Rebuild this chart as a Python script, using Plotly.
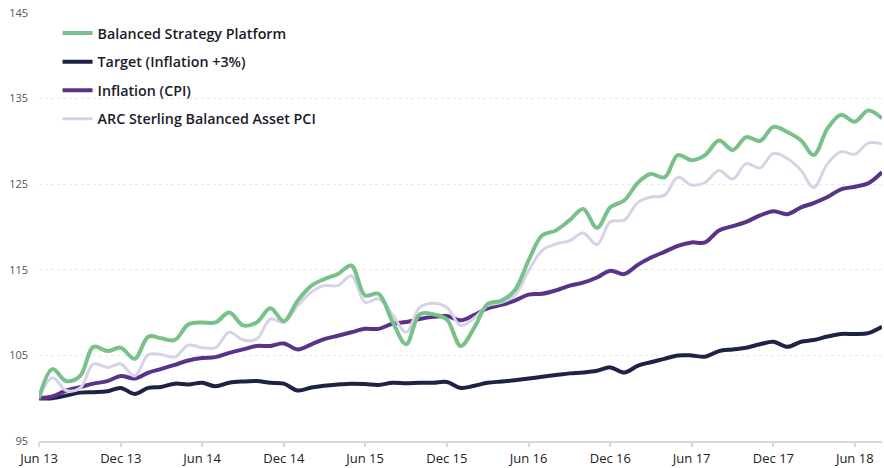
import plotly.graph_objects as go
import pandas as pd

months = pd.date_range("2013-06-01", "2018-08-01", freq="MS").strftime("%Y-%m-%d").tolist()

balanced = [100.0, 103.4, 102.0, 102.6, 106.0, 105.5, 105.9, 104.6, 107.2, 107.0, 106.8, 108.6,
            108.85, 108.85, 110.0, 108.5, 108.85, 110.5, 109.0, 111.4, 113.15, 113.9, 114.5, 115.5,
            112.0, 112.2, 109.0, 106.3, 109.8, 109.8, 109.2, 106.1, 108.3, 111.0, 111.4, 112.6,
            116.1, 119.0, 119.6, 120.8, 122.1, 119.9, 122.3, 123.1, 125.2, 126.2, 125.8, 128.4,
            127.8, 128.4, 130.1, 129.0, 130.5, 130.05, 131.7, 131.1, 130.1, 128.4, 131.5, 133.1,
            132.3, 133.6, 132.7]

target = [100.0, 100.0, 100.3, 100.65, 100.7, 100.8, 101.2, 100.5, 101.2, 101.3, 101.7, 101.6,
          101.8, 101.4, 101.8, 101.95, 102.0, 101.8, 101.7, 100.9, 101.25, 101.45, 101.6, 101.7,
          101.65, 101.55, 101.8, 101.75, 101.8, 101.8, 101.9, 101.2, 101.45, 101.8, 101.95, 102.1,
          102.3, 102.5, 102.7, 102.9, 103.0, 103.2, 103.6, 103.0, 103.8, 104.2, 104.6, 105.0,
          105.0, 104.85, 105.5, 105.7, 105.9, 106.3, 106.6, 106.0, 106.6, 106.8, 107.2, 107.5,
          107.5, 107.6, 108.35]

inflation = [100.0, 100.2, 100.9, 101.3, 101.7, 102.0, 102.6, 102.3, 103.0, 103.4, 103.9, 104.4,
             104.7, 104.8, 105.3, 105.7, 106.1, 106.1, 106.4, 105.7, 106.3, 106.9, 107.3, 107.7,
             108.1, 108.1, 108.7, 108.9, 109.25, 109.5, 109.6, 109.1, 109.75, 110.5, 110.9, 111.4,
             112.1, 112.2, 112.6, 113.15, 113.5, 114.1, 114.9, 114.5, 115.6, 116.4, 117.1, 117.8,
             118.2, 118.2, 119.6, 120.1, 120.6, 121.35, 121.85, 121.5, 122.3, 122.8, 123.5, 124.4,
             124.7, 125.1, 126.4]

arc = [100.0, 102.4, 100.9, 101.2, 104.0, 103.6, 104.0, 102.6, 105.1, 105.1, 104.8, 106.2,
       105.9, 105.9, 107.7, 106.8, 106.9, 109.25, 108.85, 110.8, 112.4, 113.15, 113.15, 114.3,
       111.2, 111.6, 109.8, 107.7, 110.6, 111.1, 110.6, 108.5, 109.4, 110.8, 111.2, 112.0,
       114.9, 117.25, 118.0, 118.4, 119.3, 117.95, 120.6, 120.8, 122.9, 123.5, 123.7, 125.8,
       124.9, 125.2, 126.6, 125.6, 127.4, 126.9, 128.6, 128.0, 126.6, 124.6, 127.4, 128.8,
       128.5, 129.8, 129.7]

series_names = ["Balanced Strategy Platform", "Target (Inflation +3%)", "Inflation (CPI)",
                "ARC Sterling Balanced Asset PCI"]
y_ticks = [95, 105, 115, 125, 135, 145]

FONT = "'Open Sans', Lato, sans-serif"

fig = go.Figure()

# draw order: navy, purple, lilac, green (green on top); legend order via legendrank
specs = [
    (target, series_names[1], "#1E2247", 4, 2),
    (inflation, series_names[2], "#5A3388", 4, 3),
    (arc, series_names[3], "#D6D3E6", 3, 4),
    (balanced, series_names[0], "#78C18A", 4, 1),
]
for vals, name, color, width, rank in specs:
    fig.add_trace(go.Scatter(
        x=months, y=vals, name=name, mode="lines",
        line=dict(color=color, width=width, shape="spline", smoothing=1.0),
        legendrank=rank, legendgroup=name,
    ))

fig.update_layout(
    width=884, height=468,
    margin=dict(l=39, r=2, t=13, b=27, autoexpand=False),
    paper_bgcolor="white", plot_bgcolor="white",
    font=dict(family=FONT, color="#333333"),
    showlegend=True,
    legend=dict(
        x=0.022, y=0.99, xanchor="left", yanchor="top",
        bgcolor="rgba(0,0,0,0)",
        font=dict(family=FONT, size=14.3, color="#1b1b2b", weight=600),
        traceorder="grouped", tracegroupgap=7,
        itemwidth=30,
    ),
    xaxis=dict(
        type="date",
        range=[months[0], months[-1]],
        tickformat="%b %y", dtick="M6", tick0=months[0],
        showgrid=False,
        showline=True, linecolor="#d9d9d9", linewidth=2,
        ticks="outside", ticklen=4, tickcolor="#d9d9d9", tickwidth=2,
        tickfont=dict(family=FONT, size=13, color="#222222"),
        zeroline=False, automargin=False,
    ),
    yaxis=dict(
        range=[95, 145],
        tickvals=y_ticks,
        showgrid=True, gridcolor="#e9e9e9", gridwidth=1, griddash="dot",
        zeroline=False, showline=False,
        ticks="", ticklabelstandoff=10,
        tickfont=dict(family=FONT, size=11, color="#555555"),
        automargin=False,
    ),
)

fig.write_html("out.html", config={"displayModeBar": False},
               post_script="document.body.style.margin='0';document.body.style.overflow='hidden';")
